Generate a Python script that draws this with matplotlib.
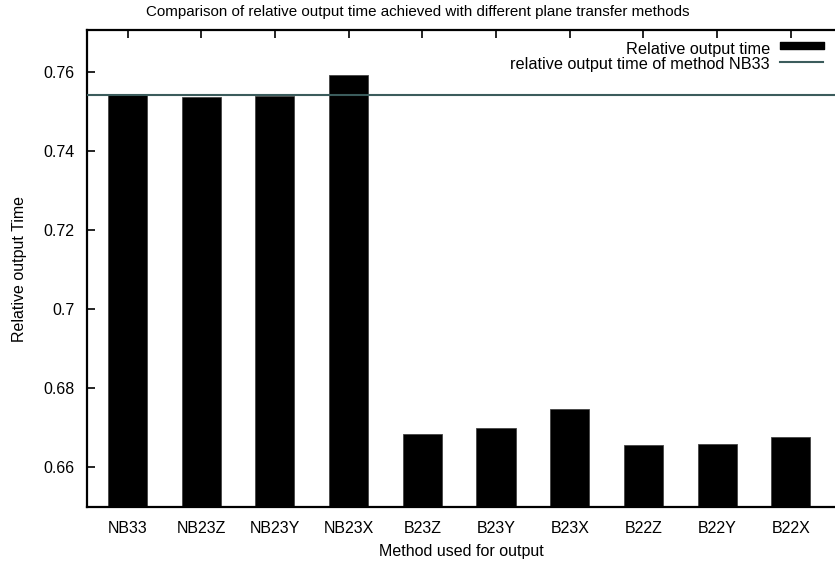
import numpy as np
import matplotlib
matplotlib.use('Agg')
import matplotlib.pyplot as plt
from matplotlib.patches import Rectangle
from matplotlib.lines import Line2D

plt.rcParams['font.family'] = ['Liberation Sans', 'DejaVu Sans']

# relative output time per transfer method
methods = ['NB33', 'NB23Z', 'NB23Y', 'NB23X', 'B23Z', 'B23Y', 'B23X', 'B22Z', 'B22Y', 'B22X']
rel_time = [0.7542, 0.7537, 0.7539, 0.7592, 0.6685, 0.6701, 0.6749, 0.6656, 0.6659, 0.6678]
reference_method = 'NB33'
ref_time = rel_time[methods.index(reference_method)]

W, H = 835, 566
fig = plt.figure(figsize=(W/100, H/100), dpi=100, facecolor='white')
ax = fig.add_axes([87/W, 59/H, 748/W, 477/H])

x = np.arange(len(methods))
ax.bar(x, rel_time, width=0.53, color='black', edgecolor='#444444', linewidth=0.6, zorder=2)
ax.axhline(ref_time, color='#3b5c5c', linewidth=1.5, zorder=3)

ax.set_xlim(-0.55, 9.6)
ax.set_ylim(0.65, 0.7706)
ax.set_xticks(x)
ax.set_xticklabels(methods)
ax.set_yticks([0.66, 0.68, 0.70, 0.72, 0.74, 0.76])
ax.set_yticklabels(['0.66', '0.68', '0.7', '0.72', '0.74', '0.76'])
ax.tick_params(axis='both', direction='in', length=6, width=1.2, labelsize=11.5, pad=10)
ax.tick_params(axis='x', top=True)
ax.tick_params(axis='y', pad=9)
ax.spines['right'].set_visible(False)
for s in ('left', 'top', 'bottom'):
    ax.spines[s].set_linewidth(1.6)

ax.set_xlabel('Method used for output', fontsize=11.5, labelpad=6)
ax.set_ylabel('Relative output Time', fontsize=11.5, labelpad=12)
fig.text(0.5, 1 - 12/H, 'Comparison of relative output time achieved with different plane transfer methods',
         ha='center', va='center', fontsize=10.9)

# key in the top right corner, text right-aligned with sample on the right
def fig_xy(px, py):
    return px/W, 1 - py/H

fig.text(*fig_xy(770, 54), 'Relative output time', ha='right', va='baseline', fontsize=11.7)
fig.patches.append(Rectangle(fig_xy(780, 49), 44/W, 7/H, transform=fig.transFigure,
                             facecolor='black', edgecolor='black', joinstyle='round'))
fig.text(*fig_xy(770, 69), 'relative output time of method ' + reference_method,
         ha='right', va='baseline', fontsize=11.7)
lx0, ly = fig_xy(780, 62)
fig.lines.append(Line2D([lx0, 823/W], [ly, ly], transform=fig.transFigure,
                        color='#3b5c5c', linewidth=1.5))

fig.savefig('out.png', dpi=100)
